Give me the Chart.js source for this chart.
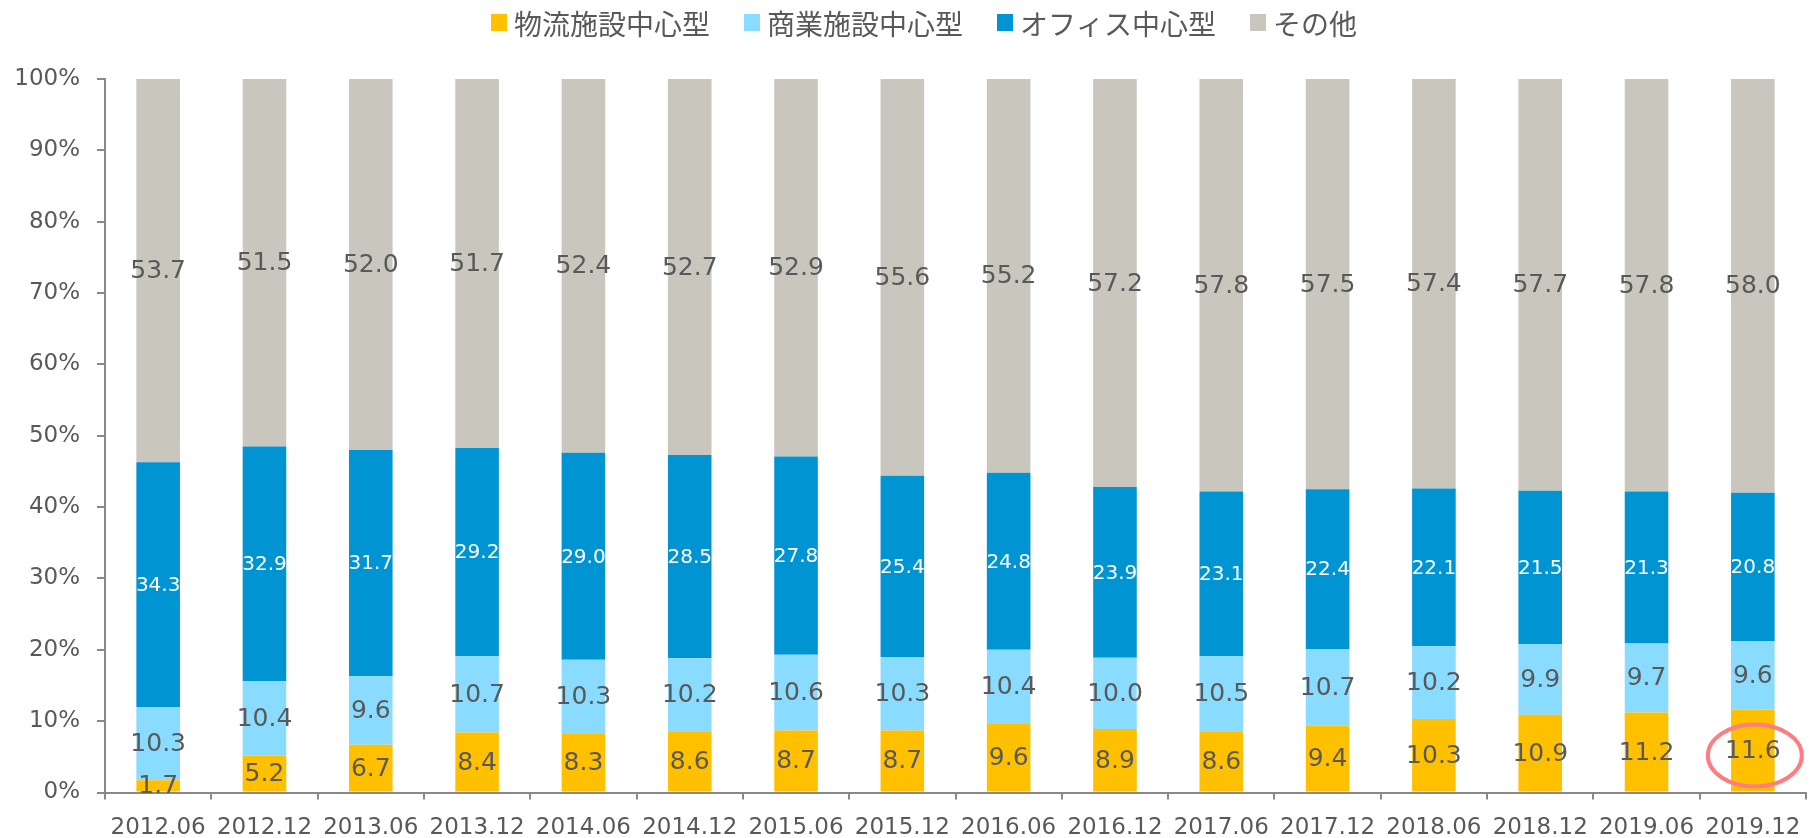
<!DOCTYPE html>
<html>
<head>
<meta charset="utf-8">
<script src="https://cdn.jsdelivr.net/npm/chart.js@4/dist/chart.umd.min.js"></script>
<style>
  html, body { margin: 0; padding: 0; background: #ffffff; overflow: hidden; }
  #wrap { width: 1809px; height: 838px; }
</style>
</head>
<body>
<div id="wrap"><canvas id="c" width="1809" height="838"></canvas></div>
<script>
// Composition by type (%), half-yearly
const periods = ['2012.06','2012.12','2013.06','2013.12','2014.06','2014.12','2015.06','2015.12',
                 '2016.06','2016.12','2017.06','2017.12','2018.06','2018.12','2019.06','2019.12'];
const logistics = [1.7, 5.2, 6.7, 8.4, 8.3, 8.6, 8.7, 8.7, 9.6, 8.9, 8.6, 9.4, 10.3, 10.9, 11.2, 11.6];
const retail    = [10.3, 10.4, 9.6, 10.7, 10.3, 10.2, 10.6, 10.3, 10.4, 10.0, 10.5, 10.7, 10.2, 9.9, 9.7, 9.6];
const office    = [34.3, 32.9, 31.7, 29.2, 29.0, 28.5, 27.8, 25.4, 24.8, 23.9, 23.1, 22.4, 22.1, 21.5, 21.3, 20.8];
const other     = [53.7, 51.5, 52.0, 51.7, 52.4, 52.7, 52.9, 55.6, 55.2, 57.2, 57.8, 57.5, 57.4, 57.7, 57.8, 58.0];
const seriesNames = ['物流施設中心型', '商業施設中心型', 'オフィス中心型', 'その他'];
const yTickValues = [0, 10, 20, 30, 40, 50, 60, 70, 80, 90, 100];
const highlightPeriod = '2019.12';

const TEXT = '#595959';
const AXIS = '#898989';
const NUM_FONT = '"DejaVu Sans", Verdana, sans-serif';
const JP_FONT = '"Noto Sans CJK JP", "Noto Sans", sans-serif';

// Value labels centred in each stacked segment
const segmentLabels = {
  id: 'segmentLabels',
  afterDatasetsDraw(chart) {
    const ctx = chart.ctx;
    ctx.save();
    ctx.textAlign = 'center';
    ctx.textBaseline = 'middle';
    chart.data.datasets.forEach((ds, di) => {
      const meta = chart.getDatasetMeta(di);
      const st = ds.labelStyle;
      ctx.font = st.size + 'px ' + NUM_FONT;
      ctx.fillStyle = st.color;
      meta.data.forEach((bar, i) => {
        const v = ds.data[i];
        const y = (bar.y + bar.base) / 2;
        ctx.fillText(v.toFixed(1), bar.x, y + 1);
      });
    });
    ctx.restore();
  }
};

// Ring around the latest logistics value
const highlightRing = {
  id: 'highlightRing',
  afterDatasetsDraw(chart) {
    const idx = chart.data.labels.indexOf(highlightPeriod);
    if (idx < 0) return;
    const bar = chart.getDatasetMeta(0).data[idx];
    const cx = bar.x + 2;
    const cy = (bar.y + bar.base) / 2 + 5;
    const ctx = chart.ctx;
    ctx.save();
    ctx.strokeStyle = '#FF7C80';
    ctx.lineWidth = 4;
    ctx.beginPath();
    ctx.ellipse(cx, cy, 47, 31, 0, 0, Math.PI * 2);
    ctx.stroke();
    ctx.restore();
  }
};

// Legend row across the top
const topLegend = {
  id: 'topLegend',
  afterDraw(chart) {
    const ctx = chart.ctx;
    const box = 16, boxGap = 7, itemGap = 34, centre = 924, textY = 24;
    ctx.save();
    ctx.font = '28px ' + JP_FONT;
    ctx.textBaseline = 'middle';
    ctx.textAlign = 'left';
    const items = chart.data.datasets.map(ds => ({
      label: ds.label, color: ds.backgroundColor, w: ctx.measureText(ds.label).width
    }));
    const total = items.reduce((s, it) => s + box + boxGap + it.w, 0) + itemGap * (items.length - 1);
    let x = centre - total / 2;
    items.forEach(it => {
      ctx.fillStyle = it.color;
      ctx.fillRect(x, 14, box, 17);
      ctx.fillStyle = TEXT;
      ctx.fillText(it.label, x + box + boxGap, textY);
      x += box + boxGap + it.w + itemGap;
    });
    ctx.restore();
  }
};

const colors = ['#FFC000', '#89DBFF', '#0095D2', '#C9C6BE'];
const values = [logistics, retail, office, other];
const labelStyles = [
  { size: 25, color: TEXT },
  { size: 25, color: TEXT },
  { size: 20, color: '#FFFFFF' },
  { size: 25, color: TEXT }
];

new Chart(document.getElementById('c'), {
  type: 'bar',
  data: {
    labels: periods,
    datasets: values.map((arr, i) => ({
      label: seriesNames[i],
      data: arr,
      backgroundColor: colors[i],
      borderWidth: 0,
      categoryPercentage: 1.0,
      barPercentage: 0.41,
      labelStyle: labelStyles[i]
    }))
  },
  options: {
    responsive: false,
    animation: false,
    devicePixelRatio: 1,
    layout: { padding: { top: 79, right: 3, left: 0, bottom: 0 } },
    plugins: {
      legend: { display: false },
      tooltip: { enabled: false }
    },
    scales: {
      x: {
        stacked: true,
        grid: { display: true, drawOnChartArea: false, drawTicks: true, tickLength: 7,
                color: AXIS, lineWidth: 2, offset: true },
        border: { display: true, color: AXIS, width: 2 },
        ticks: { color: TEXT, font: { family: NUM_FONT, size: 23 }, padding: 15,
                 maxRotation: 0, autoSkip: false },
        afterFit(scale) {
          scale.height = 45.5;
          scale.paddingLeft = 0;
          scale.paddingRight = 0;
        }
      },
      y: {
        stacked: true,
        min: 0,
        max: 100,
        afterBuildTicks(scale) { scale.ticks = yTickValues.map(v => ({ value: v })); },
        grid: { display: true, drawOnChartArea: false, drawTicks: true, tickLength: 8,
                color: AXIS, lineWidth: 2 },
        border: { display: true, color: AXIS, width: 2 },
        ticks: { color: TEXT, font: { family: NUM_FONT, size: 23 }, padding: 17,
                 callback: v => v + '%' },
        afterFit(scale) { scale.width = 105; }
      }
    }
  },
  plugins: [segmentLabels, highlightRing, topLegend]
});
</script>
</body>
</html>
